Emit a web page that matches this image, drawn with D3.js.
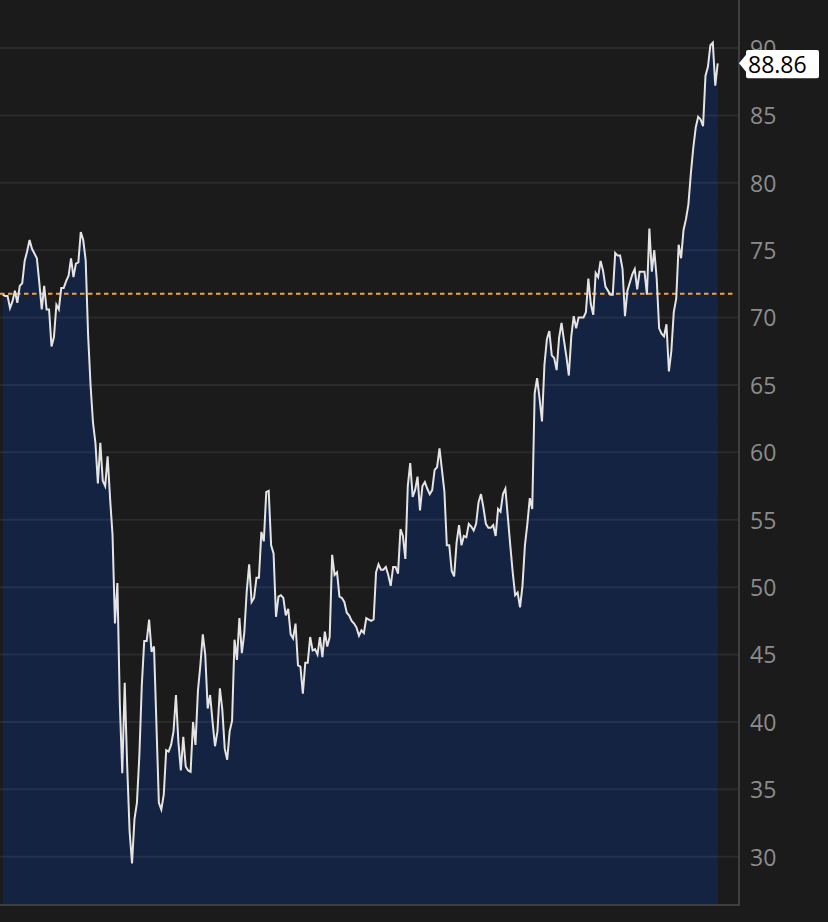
<!DOCTYPE html>
<html><head><meta charset="utf-8">
<script src="https://cdn.jsdelivr.net/npm/d3@7"></script>
<style>html,body{margin:0;padding:0;background:#1b1b1b;}svg{display:block;}</style>
</head><body>
<svg id="chart" width="828" height="922"></svg>
<script>
// Price series (equally spaced observations)
const values = [
 71.7, 71.6, 71.6, 70.7, 71.2, 72.0, 71.1, 72.35, 72.55, 74.2, 74.9, 75.75, 75.1, 74.75, 74.4, 72.6, 70.6, 72.35, 70.6, 70.6,
 67.85, 68.55, 70.95, 70.6, 72.2, 72.2, 72.7, 73.1, 74.4, 73.0, 74.0, 74.1, 76.35, 75.75, 74.25,
 68.7, 65.0, 62.2, 60.7, 57.7, 60.7, 57.9, 57.5, 59.7,
 56.6, 53.9, 47.3, 50.3, 41.3, 36.2, 42.9, 36.8, 31.9, 29.5, 32.8, 34.0, 37.5, 42.7, 46.0, 46.0, 47.6, 45.2, 45.6, 39.8,
 34.0, 33.5, 34.6, 37.9, 37.8, 38.3, 39.3, 42.0, 38.5, 36.4, 38.9, 36.7, 36.4, 36.3, 40.0, 38.3, 42.3, 44.2, 46.5, 45.0,
 41.0, 42.0, 40.0, 38.2, 39.3, 42.5, 40.9, 38.0, 37.2, 39.3, 40.1, 46.1, 44.6, 47.7, 45.1, 46.6, 49.7, 51.7,
 48.9, 49.2, 50.7, 50.7, 54.1, 53.4, 57.05, 57.15, 53.1, 52.5, 47.8, 49.3, 49.4, 49.2, 47.9, 48.4, 46.5, 46.2, 47.3, 44.2,
 44.1, 42.1, 44.4, 44.4, 46.3, 45.3, 45.4, 45.0, 46.3, 44.8, 46.7, 45.6, 46.3, 52.4, 50.9, 51.1, 49.3, 49.2, 48.9, 48.1,
 47.9, 47.5, 47.3, 47.0, 46.4,
 46.8, 46.6, 47.7, 47.6, 47.5, 47.6, 51.1, 51.7, 51.3, 51.3, 51.5, 50.9, 50.1, 51.5, 51.5, 51.0, 54.3, 53.8, 52.1, 57.5,
 59.2, 56.7, 57.2, 58.2, 55.7, 57.5, 57.8, 57.3, 56.9, 57.2, 58.7, 58.9, 60.3, 58.7, 57.1, 53.1, 53.1, 51.2, 50.8, 53.3,
 54.6, 53.1, 53.8, 53.7, 54.7, 54.5, 54.2, 54.7, 56.3, 56.9, 55.9, 54.7, 54.4, 54.4, 54.6, 53.8, 55.8, 55.6, 56.9, 57.3,
 55.2, 53.1, 51.1, 49.4, 49.6, 48.5, 50.1, 53.1, 54.7, 56.6, 55.8,
 64.4, 65.5, 64.0, 62.3, 66.5, 68.4, 69.0, 67.2, 67.0, 66.1, 68.5, 69.6, 68.3, 67.1, 65.7, 68.6, 70.1, 69.2, 70.0, 70.0,
 70.0, 70.4, 72.9, 71.0, 70.2, 73.3, 73.0, 74.2, 73.5, 72.3, 72.0, 71.7, 71.7, 74.8, 74.6, 74.6, 73.6, 70.1, 72.0, 72.6,
 73.2, 73.6, 72.1, 73.4, 73.4, 73.4, 71.7, 76.6, 73.4, 75.0, 72.9, 69.2, 68.8, 68.6, 69.5, 66.0, 67.5, 70.4, 71.4, 75.4,
 74.4, 76.5,
 77.3, 78.4, 80.7, 82.6, 84.1, 84.9, 84.7, 84.2, 87.95, 88.6, 90.2, 90.4, 87.2, 88.86
];
const yTicks = [30, 35, 40, 45, 50, 55, 60, 65, 70, 75, 80, 85, 90];
const yDomain = [26.42, 93.56];
const refValue = 71.77;

const svg = d3.select("#chart");
const axisX = 739, plotBottom = 905;

const x = d3.scaleLinear().domain([0, values.length - 1]).range([2.7, 717.7]);
const y = d3.scaleLinear().domain(yDomain).range([plotBottom, 0]);

// area
svg.append("path")
  .datum(values)
  .attr("fill", "#142342")
  .attr("d", d3.area().x((d, i) => x(i)).y0(plotBottom).y1(d => y(d)));

// gridlines
svg.append("g").selectAll("line").data(yTicks).join("line")
  .attr("x1", 0).attr("x2", axisX - 1)
  .attr("y1", d => y(d)).attr("y2", d => y(d))
  .attr("stroke", "rgba(255,255,255,0.065)")
  .attr("stroke-width", 2);

// reference dashed line
svg.append("line")
  .attr("x1", 0).attr("x2", 735)
  .attr("y1", y(refValue)).attr("y2", y(refValue))
  .attr("stroke", "#f2a33f")
  .attr("stroke-width", 2)
  .attr("stroke-dasharray", "4.5,3.5");

// price line
svg.append("path")
  .datum(values)
  .attr("fill", "none")
  .attr("stroke", "#e4e4e4")
  .attr("stroke-width", 2)
  .attr("d", d3.line().x((d, i) => x(i)).y(d => y(d)));

// right axis labels
const yAxis = d3.axisRight(y).tickValues(yTicks).tickSize(0).tickPadding(11).tickFormat(d3.format("d"));
const ag = svg.append("g").attr("transform", `translate(${axisX},0)`).call(yAxis);
ag.select(".domain").remove();
ag.selectAll("text")
  .attr("fill", "#8c8c8c")
  .attr("dy", "0.36em")
  .style("font-family", "'Open Sans', 'Noto Sans', sans-serif")
  .style("font-size", "23px");

// axis border lines
svg.append("line").attr("x1", axisX).attr("x2", axisX).attr("y1", 0).attr("y2", plotBottom + 1)
  .attr("stroke", "#3f3f3f").attr("stroke-width", 2);
svg.append("line").attr("x1", 0).attr("x2", axisX + 1).attr("y1", plotBottom).attr("y2", plotBottom)
  .attr("stroke", "#3f3f3f").attr("stroke-width", 2);

// last value label
const lastValue = values[values.length - 1];
const lg = svg.append("g").attr("transform", `translate(${axisX},${y(lastValue)})`);
lg.append("path")
  .attr("d", "M0,0 L7,-8.5 L7,-11.4 Q7,-13.4 9,-13.4 L78,-13.4 Q80,-13.4 80,-11.4 L80,12.9 Q80,14.9 78,14.9 L9,14.9 Q7,14.9 7,12.9 L7,8.5 Z")
  .attr("fill", "#ffffff");
lg.append("text")
  .attr("x", 9).attr("y", 1.6).attr("dy", "0.36em")
  .attr("fill", "#000")
  .style("font-family", "'Open Sans', 'Noto Sans', sans-serif")
  .style("font-size", "23px")
  .text(d3.format(".2f")(lastValue));
</script>
</body></html>
